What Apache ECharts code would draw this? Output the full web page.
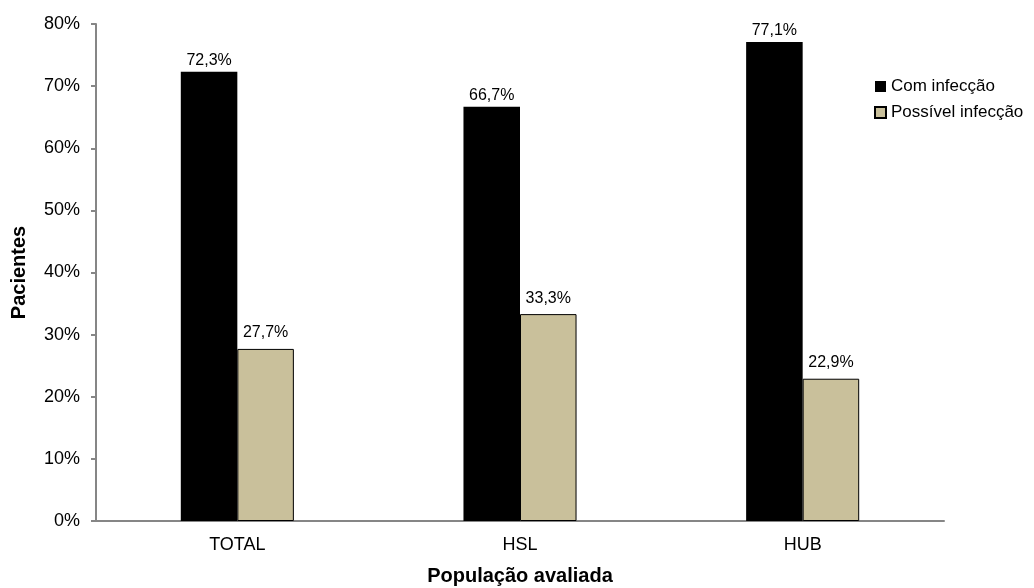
<!DOCTYPE html>
<html>
<head>
<meta charset="utf-8">
<script src="https://cdn.jsdelivr.net/npm/echarts@6/dist/echarts.min.js"></script>
<style>
html,body{margin:0;padding:0;background:#fff;overflow:hidden;}
#chart{width:1034px;height:588px;}
</style>
</head>
<body>
<div id="chart"></div>
<script>
// Share of patients by evaluated population
const categories = ['TOTAL', 'HSL', 'HUB'];
const comInfeccao = [72.3, 66.7, 77.1];
const possivelInfeccao = [27.7, 33.3, 22.9];
const yTicks = [0, 10, 20, 30, 40, 50, 60, 70, 80];

const fontFamily = '"Liberation Sans", Arial, sans-serif';
const fmtPct = v => v.toFixed(1).replace('.', ',') + '%';

const chart = echarts.init(document.getElementById('chart'));
chart.setOption({
  animation: false,
  textStyle: { fontFamily: fontFamily, color: '#000' },
  grid: { left: 96, right: 90, top: 24, bottom: 67, containLabel: false, outerBoundsMode: 'none' },
  legend: {
    orient: 'vertical',
    left: 874,
    top: 78,
    padding: 0,
    itemWidth: 11,
    itemHeight: 11,
    itemGap: 9,
    icon: 'rect',
    textStyle: { fontSize: 17, color: '#000', fontFamily: fontFamily },
    data: ['Com infecção', 'Possível infecção']
  },
  xAxis: {
    type: 'category',
    data: categories,
    name: 'População avaliada',
    nameLocation: 'middle',
    nameGap: 45,
    nameTextStyle: { fontSize: 20, fontWeight: 'bold', color: '#000', fontFamily: fontFamily },
    axisLine: { lineStyle: { color: '#868686', width: 2 } },
    axisTick: { show: false },
    axisLabel: { fontSize: 18, color: '#000', margin: 15, fontFamily: fontFamily }
  },
  yAxis: {
    type: 'value',
    min: yTicks[0],
    max: yTicks[yTicks.length - 1],
    interval: 10,
    name: 'Pacientes',
    nameLocation: 'middle',
    nameGap: 67,
    nameTextStyle: { fontSize: 20, fontWeight: 'bold', color: '#000', fontFamily: fontFamily },
    axisLine: { show: true, lineStyle: { color: '#868686', width: 2 } },
    axisTick: { show: true, length: 5, lineStyle: { color: '#868686', width: 2 } },
    splitLine: { show: false },
    axisLabel: { fontSize: 18, color: '#000', margin: 16, fontFamily: fontFamily, formatter: v => v + '%' }
  },
  series: [
    {
      name: 'Com infecção',
      type: 'bar',
      data: comInfeccao,
      barGap: '0%',
      barCategoryGap: '60%',
      itemStyle: { color: '#000000' },
      label: { show: true, position: 'top', distance: 3, fontSize: 16, color: '#000', fontFamily: fontFamily, formatter: p => fmtPct(p.value) }
    },
    {
      name: 'Possível infecção',
      type: 'bar',
      data: possivelInfeccao,
      itemStyle: { color: '#C9C09B', borderColor: '#000', borderWidth: 1 },
      label: { show: true, position: 'top', distance: 8, fontSize: 16, color: '#000', fontFamily: fontFamily, formatter: p => fmtPct(p.value) }
    }
  ]
});
</script>
</body>
</html>
